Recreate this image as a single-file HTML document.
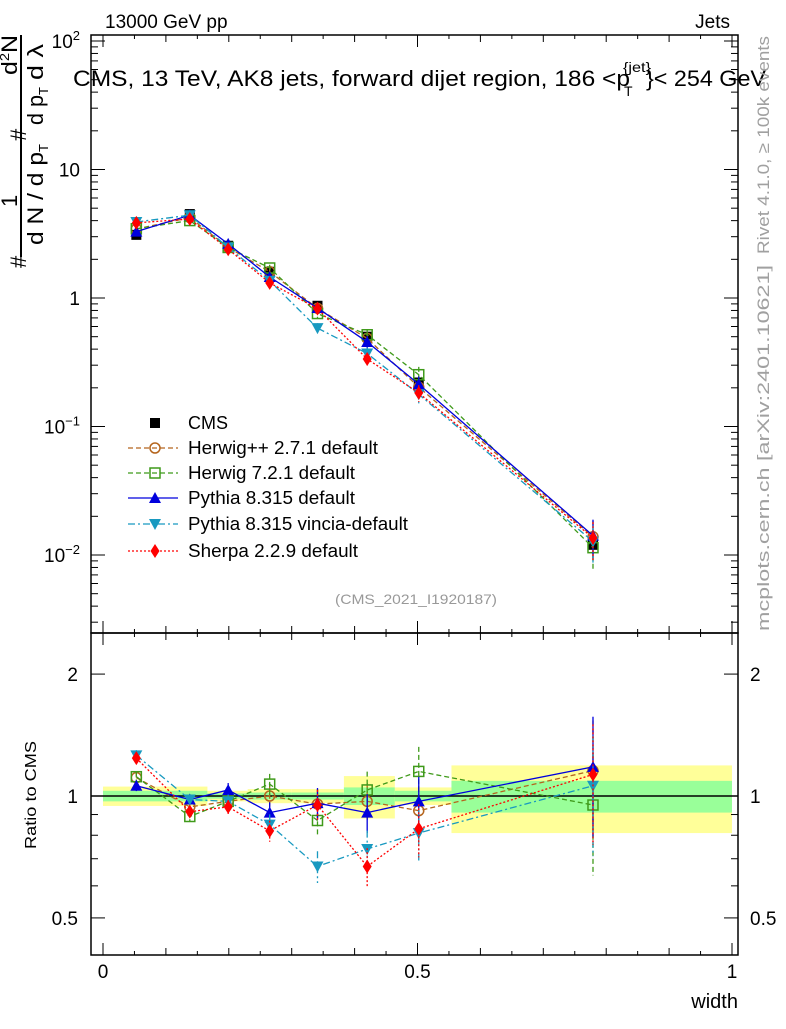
<!DOCTYPE html>
<html><head><meta charset="utf-8"><style>
body{margin:0;background:#fff;width:786px;height:1024px;overflow:hidden}
svg{font-family:"Liberation Sans",sans-serif}
</style></head><body>
<svg id="c" width="786" height="1024" xmlns="http://www.w3.org/2000/svg">
<g id="bands"></g>
<g id="marks"></g>
<g id="axes"></g>
<text x="105" y="28" font-size="19">13000 GeV pp</text>
<text x="730" y="28" font-size="19" text-anchor="end">Jets</text>
<g font-size="22">
<text x="73" y="86" textLength="557" lengthAdjust="spacingAndGlyphs">CMS, 13 TeV, AK8 jets, forward dijet region, 186 &lt;p</text>
<text x="624" y="96" font-size="14">T</text>
<text x="623" y="72" font-size="14" textLength="28" lengthAdjust="spacingAndGlyphs">{jet}</text>
<text x="646" y="86" textLength="120" lengthAdjust="spacingAndGlyphs">}&lt; 254 GeV</text>
</g>
<text x="335" y="604" font-size="14" fill="#999" textLength="162" lengthAdjust="spacingAndGlyphs">(CMS_2021_I1920187)</text>
<text transform="translate(769,254) rotate(-90)" font-size="17" fill="#a0a0a0" textLength="218" lengthAdjust="spacingAndGlyphs">Rivet 4.1.0, ≥ 100k events</text>
<text transform="translate(769,631) rotate(-90)" font-size="17" fill="#a0a0a0" textLength="366" lengthAdjust="spacingAndGlyphs">mcplots.cern.ch [arXiv:2401.10621]</text>
<g font-size="22">
<line x1="21" y1="35" x2="21" y2="257" stroke="#000" stroke-width="2"/>
<text transform="translate(26,268) rotate(-90)">#</text>
<text transform="translate(17,207) rotate(-90)">1</text>
<text transform="translate(43,245) rotate(-90)" textLength="93" lengthAdjust="spacingAndGlyphs">d N / d p</text>
<text transform="translate(48,152) rotate(-90)" font-size="13">T</text>
<text transform="translate(26,141) rotate(-90)">#</text>
<text transform="translate(17,75) rotate(-90)" textLength="40" lengthAdjust="spacingAndGlyphs">d<tspan font-size="13" dy="-8">2</tspan><tspan dy="8">N</tspan></text>
<text transform="translate(43,125) rotate(-90)" textLength="30" lengthAdjust="spacingAndGlyphs">d p</text>
<text transform="translate(48,95) rotate(-90)" font-size="13">T</text>
<text transform="translate(43,80) rotate(-90)" textLength="36" lengthAdjust="spacingAndGlyphs">d λ</text>
</g>
<text transform="translate(36,795) rotate(-90)" font-size="16" text-anchor="middle" textLength="108" lengthAdjust="spacingAndGlyphs">Ratio to CMS</text>
<text x="738" y="1008" font-size="20" text-anchor="end">width</text>
<g id="legend"></g>
</svg>
<script>
const xCenters=[0.053,0.138,0.199,0.265,0.341,0.42,0.502,0.779];
const binEdges=[0,0.166,0.23,0.3,0.383,0.464,0.554,1.0];
const cmsValues=[3.1,4.5,2.55,1.6,0.87,0.5,0.22,0.012];
const cmsStatBand=[0.03,0.015,0.02,0.02,0.05,0.03,0.09,0.09];
const cmsTotBand=[0.055,0.03,0.04,0.04,0.12,0.05,0.19,0.19];
const herwigPPRatio=[1.11,0.94,0.97,1.0,0.955,0.97,0.92,1.155];
const herwig7Ratio=[1.116,0.89,0.97,1.07,0.87,1.035,1.15,0.95];
const pythiaRatio=[1.06,0.98,1.035,0.91,0.96,0.91,0.97,1.18];
const vinciaRatio=[1.26,0.98,0.97,0.85,0.67,0.74,0.81,1.06];
const sherpaRatio=[1.24,0.915,0.94,0.82,0.95,0.67,0.83,1.13];
const mcRelErr=[0.03,0.03,0.04,0.06,0.09,0.11,0.15,0.33];
const mainTicks=["10^2","10","1","10^-1","10^-2"];
const mainTickVals=[100,10,1,0.1,0.01];
const ratioTickVals=[2,1,0.5];
const xTickVals=[0,0.5,1];
const legendNames=["Herwig++ 2.7.1 default","Herwig 7.2.1 default","Pythia 8.315 default","Pythia 8.315 vincia-default","Sherpa 2.2.9 default"];

const L=91,R=738,T=35,M=633,B=955;
const X=v=>103+v*629;
const Y=v=>298-128.5*Math.log10(v);
const YR=v=>796-405*Math.log10(v);
const NS="http://www.w3.org/2000/svg";
function mk(tag,attrs,parent){const e=document.createElementNS(NS,tag);for(const k in attrs)e.setAttribute(k,attrs[k]);parent.appendChild(e);return e;}
const bands=document.getElementById('bands'),marks=document.getElementById('marks'),axes=document.getElementById('axes'),legend=document.getElementById('legend');

for(let i=0;i<cmsValues.length;i++){
 const x0=X(binEdges[i]),x1=X(binEdges[i+1]);
 const y=mk('rect',{x:x0,y:YR(1+cmsTotBand[i]),width:x1-x0,height:YR(1-cmsTotBand[i])-YR(1+cmsTotBand[i]),fill:'#ffff99'},bands);
 
 
 const g=mk('rect',{x:x0,y:YR(1+cmsStatBand[i]),width:x1-x0,height:YR(1-cmsStatBand[i])-YR(1+cmsStatBand[i]),fill:'#99ff99'},bands);
 
 
}
const one=mk('line',{x1:L,x2:R,y1:YR(1),y2:YR(1),stroke:'#000','stroke-width':1.5},bands);



function marker(type,x,y,col,parent){
 let e;
 if(type==='sq')e=mk('rect',{x:x-5,y:y-5,width:10,height:10,fill:col},parent);
 else if(type==='osq')e=mk('rect',{x:x-5,y:y-5,width:10,height:10,fill:'none',stroke:col,'stroke-width':1.5},parent);
 else if(type==='oc')e=mk('circle',{cx:x,cy:y,r:5,fill:'none',stroke:col,'stroke-width':1.5},parent);
 else if(type==='tu')e=mk('polygon',{points:`${x-6},${y+5} ${x+6},${y+5} ${x},${y-6}`,fill:col},parent);
 else if(type==='td')e=mk('polygon',{points:`${x-6},${y-5} ${x+6},${y-5} ${x},${y+6}`,fill:col},parent);
 else e=mk('polygon',{points:`${x},${y-7} ${x+4.5},${y} ${x},${y+7} ${x-4.5},${y}`,fill:col},parent);
 return e;
}
const series=[
 {r:herwigPPRatio,col:'#b5651d',dash:'5,3',m:'oc',key:'herwigpp',tl:190},
 {r:herwig7Ratio,col:'#3f9a1a',dash:'5,3',m:'osq',key:'herwig7',tl:167},
 {r:pythiaRatio,col:'#0000dd',dash:'',m:'tu',key:'pythia',tl:167},
 {r:vinciaRatio,col:'#1899c0',dash:'7,3,2,3',m:'td',key:'vincia',tl:220},
 {r:sherpaRatio,col:'#ff0000',dash:'2,2',m:'dia',key:'sherpa',tl:170}
];
series.forEach(s=>{
 const g=mk('g',{},marks);
 
 
 const pm=xCenters.map((x,i)=>`${X(x)},${Y(cmsValues[i]*s.r[i])}`).join(' ');
 const pr=xCenters.map((x,i)=>`${X(x)},${YR(s.r[i])}`).join(' ');
 const a={fill:'none',stroke:s.col,'stroke-width':1.3};if(s.dash)a['stroke-dasharray']=s.dash;
 const l1=mk('polyline',Object.assign({points:pm},a),g);
 
 
 const l2=mk('polyline',Object.assign({points:pr},a),g);
 
 
 xCenters.forEach((x,i)=>{
  const v=cmsValues[i]*s.r[i],e=mcRelErr[i];
  mk('line',Object.assign({x1:X(x),x2:X(x),y1:Y(v*(1+e)),y2:Y(v*(1-e))},a),g);
  mk('line',Object.assign({x1:X(x),x2:X(x),y1:YR(s.r[i]*(1+e)),y2:YR(s.r[i]*(1-e))},a),g);
  const m1=marker(s.m,X(x),Y(v),s.col,g);
  
  
  const m2=marker(s.m,X(x),YR(s.r[i]),s.col,g);
  
  
 });
});
xCenters.forEach((x,i)=>{
 const m=marker('sq',X(x),Y(cmsValues[i]),'#000',marks);
 
 
});
marks.querySelectorAll('g').forEach(g=>marks.appendChild(g));

[[T,M],[M,B]].forEach(([t,b])=>{
 const f=mk('rect',{x:L,y:t,width:R-L,height:b-t,fill:'none',stroke:'#000','stroke-width':1.5},axes);
 
 
});
for(let k=0;k<=20;k++){
 const v=k*0.05,x=X(v),len=(k%10===0)?12:(k%2===0?7:4);
 [[T,1],[M,-1],[M,1],[B,-1]].forEach(([y0,d])=>mk('line',{x1:x,x2:x,y1:y0,y2:y0+d*len,stroke:'#000'},axes));
}
xTickVals.forEach(v=>{
 const t=mk('text',{x:X(v),y:978,'font-size':19,'text-anchor':'middle'},axes);t.textContent=String(v);
 
 
});
for(let e=-3;e<=2;e++)for(let m=1;m<10;m++){
 const v=m*Math.pow(10,e),y=Y(v);if(y<T||y>M)continue;
 const len=m===1?14:7;
 mk('line',{x1:L,x2:L+len,y1:y,y2:y,stroke:'#000'},axes);
 mk('line',{x1:R,x2:R-len,y1:y,y2:y,stroke:'#000'},axes);
}
mainTickVals.forEach((v,i)=>{
 const lab=mainTicks[i],t=mk('text',{x:80,y:Y(v)+7,'font-size':19,'text-anchor':'end'},axes);
 if(lab.includes('^')){const [b,p]=lab.split('^');t.textContent=b;const s=mk('tspan',{'font-size':13,dy:-8},t);s.textContent=p.replace('-','−');}
 else t.textContent=lab;
 
 
});
[0.5,0.6,0.7,0.8,0.9,1,2].forEach(v=>{
 const y=YR(v),len=(v===1||v===2||v===0.5)?14:7;
 mk('line',{x1:L,x2:L+len,y1:y,y2:y,stroke:'#000'},axes);
 mk('line',{x1:R,x2:R-len,y1:y,y2:y,stroke:'#000'},axes);
});
ratioTickVals.forEach(v=>{
 const t1=mk('text',{x:78,y:YR(v)+7,'font-size':19,'text-anchor':'end'},axes);t1.textContent=String(v);
 
 
 const t2=mk('text',{x:750,y:YR(v)+7,'font-size':19},axes);t2.textContent=String(v);
 
 
});
const legY=[423,448,473,498,524,551];
const lc=mk('g',{},legend);


marker('sq',155,legY[0],'#000',lc);
const lt=mk('text',{x:188,y:legY[0]+6,'font-size':18,textLength:40,lengthAdjust:'spacingAndGlyphs'},lc);lt.textContent='CMS';
series.forEach((s,i)=>{
 const g=mk('g',{},legend);
 
 
 const y=legY[i+1],a={x1:128,x2:178,y1:y,y2:y,stroke:s.col,'stroke-width':1.3};if(s.dash)a['stroke-dasharray']=s.dash;
 mk('line',a,g);marker(s.m,155,y,s.col,g);
 const t=mk('text',{x:188,y:y+6,'font-size':18,textLength:s.tl,lengthAdjust:'spacingAndGlyphs'},g);t.textContent=legendNames[i];
});
</script>
</body></html>
